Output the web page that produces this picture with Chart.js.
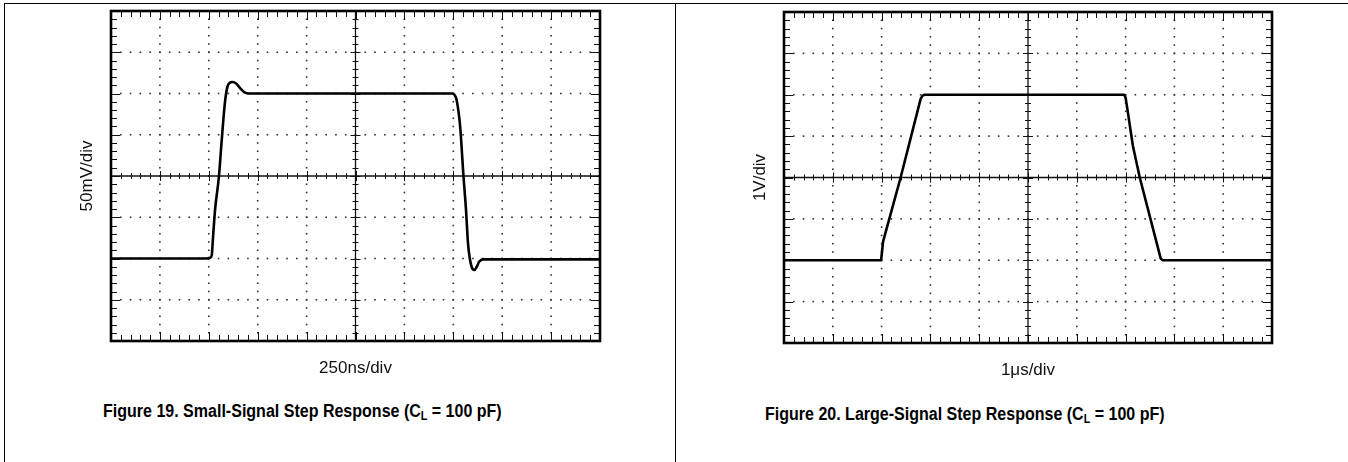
<!DOCTYPE html>
<html>
<head>
<meta charset="utf-8">
<script src="https://cdn.jsdelivr.net/npm/chart.js@4.4.0/dist/chart.umd.min.js"></script>
<style>
  html, body { margin: 0; padding: 0; background: #fff; }
  body { width: 1348px; height: 462px; position: relative; overflow: hidden; font-family: "Liberation Sans", Arial, sans-serif; }
  .rule { position: absolute; background: #000; }
  .panel { position: absolute; top: 0; width: 674px; height: 400px; }
  .caption { position: absolute; font-weight: bold; font-size: 18px; white-space: nowrap; color: #000;
             transform: scaleX(0.89); transform-origin: 0 0; }
  .caption sub { font-size: 12px; vertical-align: -3px; line-height: 0; }
</style>
</head>
<body>
<div class="rule" style="left:4px;top:3px;width:1344px;height:1px"></div>
<div class="rule" style="left:4px;top:3px;width:1px;height:459px"></div>
<div class="rule" style="left:675px;top:3px;width:1px;height:459px"></div>
<div class="panel" style="left:0"><canvas id="small"></canvas></div>
<div class="panel" style="left:674px"><canvas id="large"></canvas></div>
<div class="caption" style="left:103px;top:401px">Figure 19. Small-Signal Step Response (C<sub>L</sub> = 100 pF)</div>
<div class="caption" style="left:765px;top:404px">Figure 20. Large-Signal Step Response (C<sub>L</sub> = 100 pF)</div>

<script>
// Figure 19 - small signal, 250ns/div, 50mV/div (screen: 0..2500 ns, -200..200 mV)
const smallTime = [0, 487, 507, 515, 522, 532, 552, 565, 582, 595, 607, 622, 640, 662, 685, 705,
                   1745, 1757, 1767, 1785, 1802, 1815, 1825, 1835, 1845, 1857, 1870, 1882, 1902, 2500];
const smallMv   = [-100, -100, -99, -96, -73, -41, 0, 40, 88, 108, 113, 114, 112, 106, 101, 100,
                   100, 98, 92, 60, 0, -41, -81, -101, -111, -114, -110, -104, -101, -101];

// Figure 20 - large signal, 1us/div, 1V/div (screen: 0..10 us, -4..4 V)
const largeTime = [0, 1.99, 2.03, 2.39, 2.80, 2.84, 2.88, 6.97, 7.0, 7.05, 7.1, 7.15, 7.29, 7.72, 7.76, 10];
const largeVolt = [-2, -2, -1.55, 0, 1.9, 1.98, 2, 2, 1.93, 1.55, 1.15, 0.76, 0, -1.96, -2, -2];

const DIV_X = 10, DIV_Y = 8, SUB = 5;

// Scope graticule: thick border, dotted grid, ticked centre axes
const graticule = {
    id: 'graticule',
    beforeDatasetsDraw(chart) {
        const { ctx, chartArea: a, scales: { x, y } } = chart;
        const sx = (x.max - x.min) / DIV_X, sy = (y.max - y.min) / DIV_Y;
        const px = v => x.getPixelForValue(v), py = v => y.getPixelForValue(v);
        ctx.save();
        ctx.fillStyle = '#333';
        const dot = (cx, cy) => ctx.fillRect(cx - 0.8, cy - 0.8, 1.6, 1.6);
        for (let i = 1; i < DIV_X; i++) {
            if (i === DIV_X / 2) continue;
            for (let j = 1; j < DIV_Y * SUB; j++) dot(px(x.min + i * sx), py(y.min + j * sy / SUB));
        }
        for (let j = 1; j < DIV_Y; j++) {
            if (j === DIV_Y / 2) continue;
            for (let i = 1; i < DIV_X * SUB; i++) dot(px(x.min + i * sx / SUB), py(y.min + j * sy));
        }
        ctx.strokeStyle = '#111';
        ctx.lineWidth = 1.3;
        const cx = px(x.min + sx * DIV_X / 2), cy = py(y.min + sy * DIV_Y / 2);
        ctx.beginPath();
        ctx.moveTo(a.left, cy); ctx.lineTo(a.right, cy);
        ctx.moveTo(cx, a.top); ctx.lineTo(cx, a.bottom);
        ctx.stroke();
        ctx.lineWidth = 1;
        ctx.beginPath();
        for (let i = 1; i < DIV_X * SUB; i++) {
            const tx = Math.round(px(x.min + i * sx / SUB)) + 0.5;
            const major = i % SUB === 0;
            const c = major ? 5 : 3, e = major ? 9 : 6;
            ctx.moveTo(tx, cy - c); ctx.lineTo(tx, cy + c);
            ctx.moveTo(tx, a.top); ctx.lineTo(tx, a.top + e);
            ctx.moveTo(tx, a.bottom); ctx.lineTo(tx, a.bottom - e);
        }
        for (let j = 1; j < DIV_Y * SUB; j++) {
            const ty = Math.round(py(y.min + j * sy / SUB)) + 0.5;
            const major = j % SUB === 0;
            const c = major ? 5 : 3, e = major ? 9 : 6;
            ctx.moveTo(cx - c, ty); ctx.lineTo(cx + c, ty);
            ctx.moveTo(a.left, ty); ctx.lineTo(a.left + e, ty);
            ctx.moveTo(a.right, ty); ctx.lineTo(a.right - e, ty);
        }
        ctx.stroke();
        ctx.restore();
    },
    afterDatasetsDraw(chart) {
        const { ctx, chartArea: a } = chart;
        ctx.save();
        ctx.strokeStyle = '#000';
        ctx.lineWidth = 2.6;
        ctx.strokeRect(a.left, a.top, a.right - a.left, a.bottom - a.top);
        ctx.restore();
    }
};

function makeScope(id, xs, ys, cfg) {
    const titleFont = { family: '"Liberation Sans", Arial, sans-serif', size: 17 };
    return new Chart(document.getElementById(id), {
        type: 'line',
        data: {
            datasets: [{
                data: xs.map((v, i) => ({ x: v, y: ys[i] })),
                borderColor: '#000',
                borderWidth: 2.6,
                pointRadius: 0,
                cubicInterpolationMode: cfg.smooth ? 'monotone' : 'default',
                tension: 0,
                borderJoinStyle: 'round',
                borderCapStyle: 'round'
            }]
        },
        options: {
            responsive: true,
            maintainAspectRatio: false,
            animation: false,
            layout: { padding: { top: cfg.top, right: cfg.right, left: 0, bottom: 0 } },
            plugins: { legend: { display: false }, tooltip: { enabled: false } },
            scales: {
                x: {
                    type: 'linear', min: cfg.xMin, max: cfg.xMax,
                    ticks: { display: false }, grid: { display: false }, border: { display: false },
                    title: { display: true, text: cfg.xTitle, color: '#111', font: titleFont,
                             padding: { top: 0, bottom: cfg.xTitlePad } },
                    afterFit(s) { s.height = cfg.xHeight; }
                },
                y: {
                    type: 'linear', min: cfg.yMin, max: cfg.yMax,
                    ticks: { display: false }, grid: { display: false }, border: { display: false },
                    title: { display: true, text: cfg.yTitle, color: '#111', font: titleFont,
                             padding: { top: cfg.yTitlePad, bottom: 0 } },
                    afterFit(s) { s.width = cfg.yWidth; }
                }
            }
        },
        plugins: [graticule]
    });
}

makeScope('small', smallTime, smallMv, {
    smooth: true, xMin: 0, xMax: 2500, yMin: -200, yMax: 200,
    top: 11, right: 74, xHeight: 59, yWidth: 111,
    xTitle: '250ns/div', yTitle: '50mV/div', xTitlePad: 21.8, yTitlePad: 76.8
});

makeScope('large', largeTime, largeVolt, {
    smooth: false, xMin: 0, xMax: 10, yMin: -4, yMax: 4,
    top: 12, right: 76, xHeight: 57, yWidth: 110,
    xTitle: '1μs/div', yTitle: '1V/div', xTitlePad: 19.8, yTitlePad: 75.8
});
</script>
</body>
</html>
